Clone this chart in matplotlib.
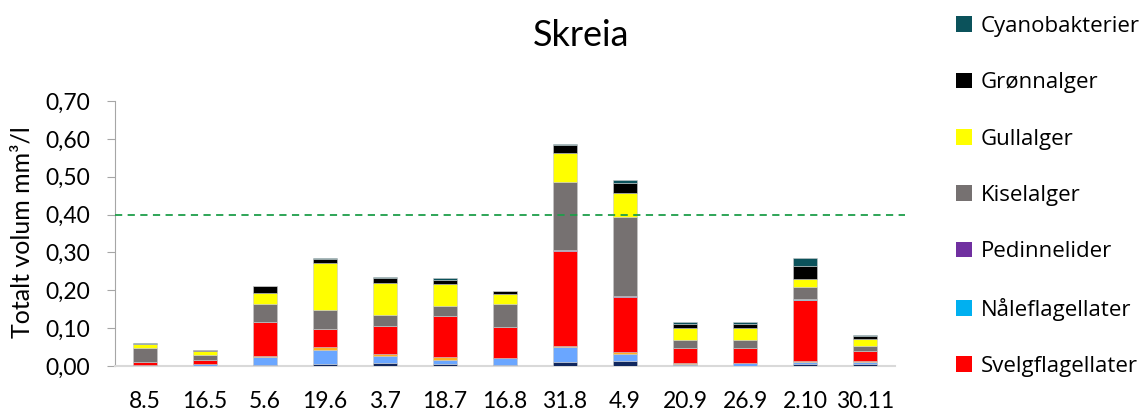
import numpy as np
import matplotlib.pyplot as plt
from matplotlib.patches import Patch
from matplotlib.ticker import FuncFormatter

plt.rcParams['font.family'] = ['Lato', 'DejaVu Sans']

# Sampling dates
datoer = ['8.5', '16.5', '5.6', '19.6', '3.7', '18.7', '16.8', '31.8', '4.9',
          '20.9', '26.9', '2.10', '30.11']

# Volume per group (mm3/l), stacked from the bottom up
serie_a = [0.001, 0.001, 0.003, 0.005, 0.008, 0.005, 0.002, 0.010, 0.014, 0.003, 0.001, 0.005, 0.005]
serie_b = [0.001, 0.004, 0.0195, 0.037, 0.019, 0.012, 0.018, 0.040, 0.018, 0.003, 0.006, 0.0045, 0.005]
serie_c = [0.000, 0.000, 0.004, 0.009, 0.005, 0.006, 0.001, 0.0035, 0.0045, 0.001, 0.001, 0.0026, 0.002]
svelgflagellater = [0.009, 0.012, 0.090, 0.046, 0.073, 0.109, 0.082, 0.249, 0.146, 0.041, 0.040, 0.161, 0.027]
naleflagellater = [0.0, 0.0, 0.0, 0.0, 0.0, 0.0, 0.0, 0.0, 0.0, 0.0, 0.0, 0.0026, 0.0]
pedinnelider = [0.0, 0.0, 0.0, 0.002, 0.0, 0.0, 0.0, 0.0045, 0.0037, 0.0, 0.0, 0.0, 0.0]
kiselalger = [0.037, 0.012, 0.046, 0.048, 0.030, 0.027, 0.061, 0.179, 0.207, 0.022, 0.022, 0.0325, 0.015]
gullalger = [0.009, 0.010, 0.030, 0.125, 0.084, 0.057, 0.026, 0.077, 0.063, 0.031, 0.030, 0.022, 0.018]
gronnalger = [0.002, 0.002, 0.020, 0.011, 0.014, 0.010, 0.007, 0.0195, 0.028, 0.011, 0.011, 0.0327, 0.008]
cyanobakterier = [0.002, 0.002, 0.0, 0.001, 0.002, 0.007, 0.0, 0.0026, 0.007, 0.005, 0.006, 0.0237, 0.002]

grenseverdi = 0.40

serier = [
    (None, serie_a, '#10275E'),
    (None, serie_b, '#6AA6FF'),
    (None, serie_c, '#FFB020'),
    ('Svelgflagellater', svelgflagellater, '#FF0000'),
    ('Nåleflagellater', naleflagellater, '#00B0F0'),
    ('Pedinnelider', pedinnelider, '#7030A0'),
    ('Kiselalger', kiselalger, '#767171'),
    ('Gullalger', gullalger, '#FFFF00'),
    ('Grønnalger', gronnalger, '#000000'),
    ('Cyanobakterier', cyanobakterier, '#0B525B'),
]

fig = plt.figure(figsize=(11.46, 4.12), dpi=100)
ax = fig.add_axes([115 / 1146, 46 / 412, 780 / 1146, 265 / 412])

x = np.arange(len(datoer))
bunn = np.zeros(len(datoer))
handles = []
for navn, verdier, farge in serier:
    ax.bar(x, verdier, width=0.4, bottom=bunn, color=farge,
           edgecolor='#C8C8C8', linewidth=0.4, zorder=3)
    bunn += np.array(verdier)
    if navn:
        handles.append(Patch(facecolor=farge, label=navn))

ax.plot([-0.5, 12.67], [grenseverdi, grenseverdi], color='#1E9E4A',
        linestyle=(0, (4, 3)), linewidth=1.3, clip_on=False, zorder=4)

ax.set_xlim(-0.5, 12.5)
ax.set_ylim(0, 0.70)
ax.set_yticks(np.arange(0, 0.71, 0.1))
ax.yaxis.set_major_formatter(FuncFormatter(lambda v, p: f'{v:.2f}'.replace('.', ',')))
ax.set_xticks(x)
ax.set_xticklabels(datoer)

for s in ['top', 'right']:
    ax.spines[s].set_visible(False)
ax.spines['left'].set_color('#A6A6A6')
ax.spines['bottom'].set_color('#D9D9D9')
ax.spines['bottom'].set_linewidth(1.5)
ax.tick_params(axis='y', length=6, color='#A6A6A6', pad=12, labelsize=16.5)
ax.tick_params(axis='x', length=0, pad=18, labelsize=16.5)

fig.text(581 / 1146, 1 - 36 / 412, 'Skreia', ha='center', va='center', fontsize=26)
fig.text(22 / 1146, 1 - 232 / 412, 'Totalt volum mm³/l', rotation=90,
         ha='center', va='center', fontsize=18)

fig.legend(handles=handles[::-1], loc='upper left',
           bbox_to_anchor=(956 / 1146, 1 - 16 / 412), frameon=False,
           handlelength=0.7, handleheight=0.7, handletextpad=0.4,
           labelspacing=1.59, borderaxespad=0, borderpad=0,
           prop={'family': ['Open Sans', 'DejaVu Sans'], 'size': 16})

fig.savefig('out.png', dpi=100)
